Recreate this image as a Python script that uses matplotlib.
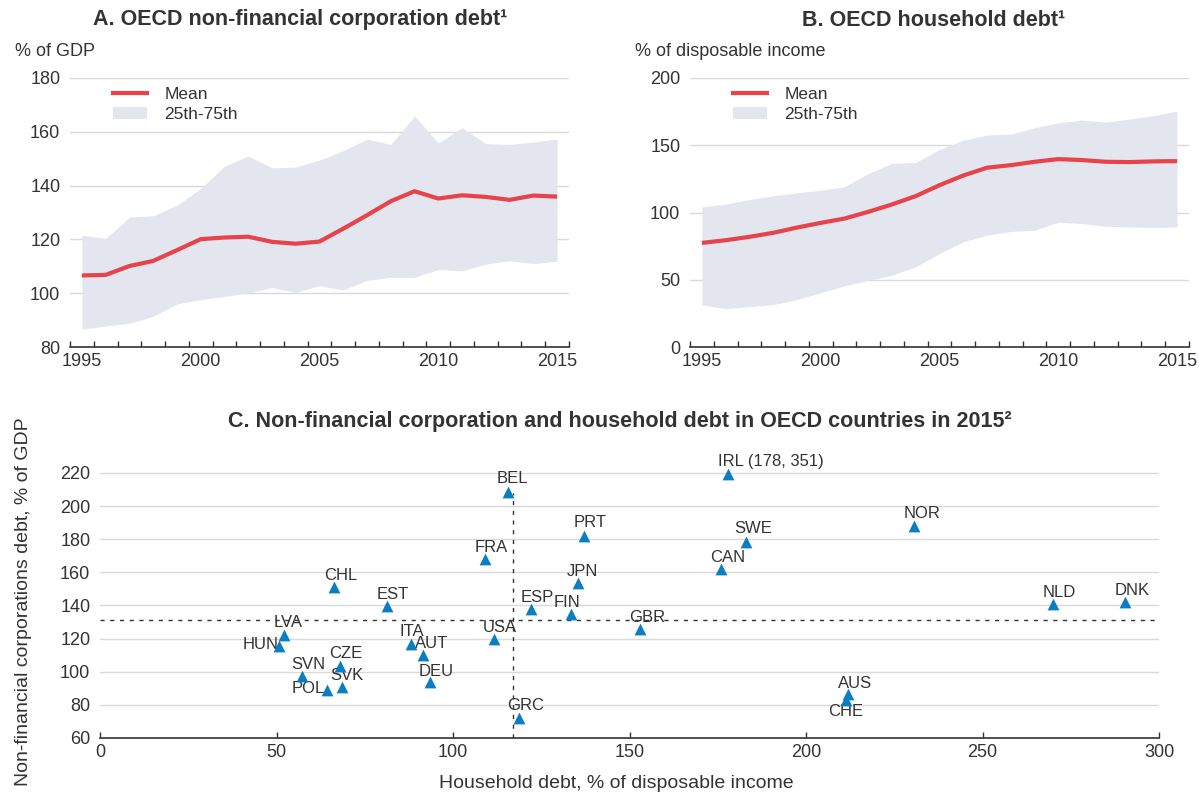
import matplotlib
matplotlib.use("Agg")
import matplotlib.pyplot as plt
from matplotlib.lines import Line2D
from matplotlib.patches import Patch
import numpy as np

plt.rcParams["font.family"] = ["Liberation Sans", "DejaVu Sans"]

# ---------------- data ----------------
years = list(range(1995, 2016))

# Panel A: non-financial corporation debt, % of GDP
nfc_mean = [106.6, 106.8, 110.1, 112.0, 116.0, 120.1, 120.7, 121.0, 119.1, 118.4,
            119.2, 124.0, 129.0, 134.2, 137.9, 135.2, 136.4, 135.8, 134.7, 136.3, 135.9]
nfc_p75 = [121.6, 120.3, 128.3, 128.8, 132.7, 138.9, 147.2, 151.0, 146.6, 146.9,
           149.5, 153.0, 157.3, 155.3, 165.9, 155.8, 161.5, 155.6, 155.3, 156.2, 157.3]
nfc_p25 = [86.6, 87.8, 88.8, 91.4, 96.0, 97.6, 98.8, 100.1, 102.1, 100.3,
           102.8, 101.2, 104.8, 105.9, 105.9, 108.8, 108.3, 110.8, 112.1, 111.0, 111.9]

# Panel B: household debt, % of disposable income
hh_mean = [77.4, 79.4, 81.9, 84.9, 88.8, 92.3, 95.5, 100.5, 106.0, 112.2,
           120.3, 127.5, 133.3, 135.2, 137.7, 139.7, 139.0, 137.7, 137.5, 138.0, 138.2]
hh_p75 = [104.2, 106.2, 109.7, 112.4, 114.6, 116.6, 119.1, 129.0, 136.5, 137.2,
          146.9, 153.8, 157.6, 158.3, 163.0, 166.7, 168.7, 167.2, 169.5, 172.0, 175.4]
hh_p25 = [31.3, 28.5, 30.0, 31.5, 35.2, 40.4, 45.4, 49.6, 53.3, 59.6,
          69.5, 78.2, 83.1, 85.9, 86.8, 92.8, 91.8, 89.8, 89.3, 88.8, 89.3]

# Panel C: 2015 country values
countries = ["BEL", "FRA", "PRT", "JPN", "ESP", "FIN", "USA", "GRC", "CHL", "EST",
             "LVA", "HUN", "ITA", "AUT", "CZE", "SVN", "SVK", "POL", "DEU", "IRL",
             "SWE", "CAN", "NOR", "NLD", "DNK", "GBR", "AUS", "CHE"]
household_2015 = [115.5, 109.1, 137.2, 135.3, 122.0, 133.3, 111.6, 118.6, 66.3, 81.3,
                  52.0, 50.8, 88.2, 91.6, 67.9, 57.3, 68.6, 64.4, 93.6, 178.0,
                  182.9, 175.8, 230.5, 270.0, 290.5, 152.9, 212.0, 211.3]
nfc_2015 = [208.6, 167.9, 181.7, 153.3, 138.0, 134.8, 119.6, 72.1, 151.2, 139.7,
            122.4, 115.7, 116.9, 110.3, 103.6, 97.7, 91.0, 89.0, 93.6, 351.0,
            178.6, 161.8, 188.2, 140.7, 142.3, 125.9, 86.3, 82.9]
oecd_avg_household = 116.9
oecd_avg_nfc = 131.0

# ---------------- style ----------------
TXT = "#333333"
RED = "#e8434b"
BAND = "#e3e6ee"
GRID = "#d9d9d9"
BLUE = "#0b7dc1"
FS = 13
TITLE_FS = 15.5
LABEL_FS = 12
AXLABEL_FS = 14

W, H = 1199, 795
fig = plt.figure(figsize=(W / 100, H / 100), dpi=100)


def px_axes(l, t, r, b):
    return fig.add_axes([l / W, 1 - b / H, (r - l) / W, (b - t) / H])


def style_axes(ax):
    for s in ("left", "right", "top"):
        ax.spines[s].set_visible(False)
    ax.spines["bottom"].set_color(TXT)
    ax.spines["bottom"].set_linewidth(1.2)
    ax.grid(axis="y", color=GRID, linewidth=1.0)
    ax.set_axisbelow(True)
    ax.tick_params(axis="y", length=0, pad=7, labelsize=FS, labelcolor=TXT)
    ax.tick_params(axis="x", labelsize=FS, labelcolor=TXT)


def time_panel(ax, mean, lo, hi, ylim, yticks):
    style_axes(ax)
    ax.fill_between(years, lo, hi, color=BAND, linewidth=0, zorder=1)
    ax.plot(years, mean, color=RED, linewidth=3.0, zorder=3, solid_capstyle="butt")
    ax.set_xlim(years[0] - 0.5, years[-1] + 0.5)
    ax.set_ylim(*ylim)
    ax.set_yticks(yticks)
    ax.set_xticks(years[::5])
    ax.set_xticks(np.arange(years[0] - 0.5, years[-1] + 1.0, 1.0), minor=True)
    ax.tick_params(axis="x", which="major", length=0, pad=4)
    ax.tick_params(axis="x", which="minor", direction="in", length=4,
                   width=1, color=TXT)
    handles = [Line2D([], [], color=RED, linewidth=3.0),
               Patch(facecolor=BAND, edgecolor="none")]
    ax.legend(handles, ["Mean", "25th-75th"], loc="upper left",
              bbox_to_anchor=(0.086, 0.968), frameon=False, borderpad=0,
              borderaxespad=0, handlelength=1.95, handleheight=0.7,
              handletextpad=1.0, labelspacing=0.3, fontsize=12.5,
              labelcolor=TXT)


# Panel A
axA = px_axes(70, 78, 569, 347)
time_panel(axA, nfc_mean, nfc_p25, nfc_p75, (80, 180), range(80, 181, 20))
fig.text(300 / W, 1 - 20 / H, "A. OECD non-financial corporation debt¹",
         ha="center", va="center", fontsize=TITLE_FS, fontweight="bold", color=TXT)
fig.text(15 / W, 1 - 51 / H, "% of GDP", ha="left", va="center",
         fontsize=FS, color=TXT)

# Panel B
axB = px_axes(690, 78, 1189, 347)
time_panel(axB, hh_mean, hh_p25, hh_p75, (0, 200), range(0, 201, 50))
fig.text(934 / W, 1 - 20 / H, "B. OECD household debt¹",
         ha="center", va="center", fontsize=TITLE_FS, fontweight="bold", color=TXT)
fig.text(635 / W, 1 - 51 / H, "% of disposable income", ha="left", va="center",
         fontsize=FS, color=TXT)

# Panel C
axC = px_axes(100, 463, 1159, 738)
style_axes(axC)
axC.set_xlim(0, 300)
axC.set_ylim(60, 226)
axC.set_xticks(range(0, 301, 50))
axC.set_yticks(range(60, 221, 20))
axC.tick_params(axis="x", direction="in", length=4, width=1, color=TXT, pad=4)

y_cap = 219.5  # values above the scale are pinned at its top
x_vals = np.array(household_2015)
y_vals = np.array(nfc_2015)
y_plot = np.minimum(y_vals, y_cap)

axC.plot([0, 300], [oecd_avg_nfc, oecd_avg_nfc], color=TXT, linewidth=1.0,
         dashes=(3, 4), zorder=2)
axC.plot([oecd_avg_household, oecd_avg_household], [60, 208], color=TXT,
         linewidth=1.0, dashes=(3, 4), zorder=2)
axC.scatter(x_vals, y_plot, marker="^", s=72, color=BLUE, linewidths=0, zorder=4)

# label offsets in pixels (dx, dy), image y pointing down
offsets = {
    "BEL": (4.6, -13), "FRA": (5.8, -11.7), "PRT": (6, -13.5), "JPN": (4.6, -11.7),
    "ESP": (6.5, -11), "FIN": (-3.5, -12), "USA": (5.8, -11.7), "GRC": (7.3, -12.3),
    "CHL": (6.5, -11.7), "EST": (6.2, -11.7), "LVA": (5, -12.3), "HUN": (-19, -1),
    "ITA": (0.5, -12.5), "AUT": (8.5, -11.5), "CZE": (5.8, -12), "SVN": (5.8, -11.3),
    "SVK": (5, -11), "POL": (-19, -1), "DEU": (6.2, -11.3), "SWE": (8, -12.7),
    "CAN": (7.3, -11.7), "NOR": (8, -12), "NLD": (6.5, -12.3), "DNK": (7, -11.3),
    "GBR": (7.7, -11.3), "AUS": (6.5, -11.3), "CHE": (-0.4, 11.7),
}
for name, xv, yv, yp in zip(countries, x_vals, y_vals, y_plot):
    if yv > y_cap:
        axC.annotate(f"{name} ({xv:.0f}, {yv:.0f})", (xv, yp),
                     xytext=(-10 * 0.72, 12 * 0.72), textcoords="offset points",
                     ha="left", va="center", fontsize=LABEL_FS, color=TXT, zorder=3)
        continue
    dx, dy = offsets[name]
    axC.annotate(name, (xv, yp), xytext=(dx * 0.72, -dy * 0.72),
                 textcoords="offset points", ha="center", va="center",
                 fontsize=LABEL_FS, color=TXT, zorder=3)

fig.text(620 / W, 1 - 421 / H,
         "C. Non-financial corporation and household debt in OECD countries in 2015²",
         ha="center", va="center", fontsize=TITLE_FS, fontweight="bold", color=TXT)
fig.text(616 / W, 1 - 784 / H, "Household debt, % of disposable income",
         ha="center", va="center", fontsize=AXLABEL_FS, color=TXT)
fig.text(24 / W, 1 - 602 / H, "Non-financial corporations debt, % of GDP",
         ha="center", va="center", rotation=90, fontsize=AXLABEL_FS, color=TXT)

fig.savefig("out.png", dpi=100, facecolor="white")
